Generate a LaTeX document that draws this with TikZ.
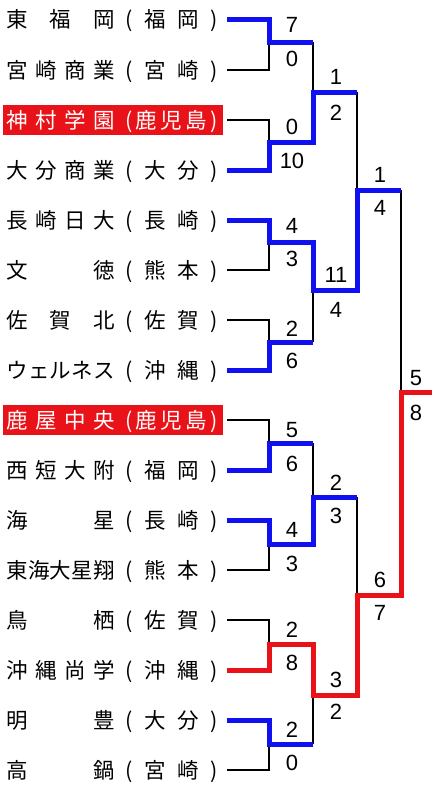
\documentclass[tikz,border=0pt]{standalone}
\usepackage{fontspec}
\setmainfont{Liberation Sans}
\newfontfamily\jp{Noto Sans CJK JP}
\definecolor{myred}{RGB}{232,18,24}
\definecolor{myblue}{RGB}{16,16,240}
\newcommand\teamrow[5]{%
  \coordinate (#1) at (227,#2);
  \node[tn, text=#5] (#1n) at (6,#2+8) {\makebox[109pt][l]{#3}};
  \node[tn, text=#5] (#1p) at (125,#2+8) {\makebox[93pt][l]{#4}};
}
\begin{document}
\begin{tikzpicture}[x=1pt,y=-1pt,
  tn/.style={anchor=base west, inner sep=0pt, font=\jp\fontsize{21.5}{21.5}\selectfont},
  sc/.style={inner sep=0pt, font=\fontsize{22}{22}\selectfont},
  lose/.style={draw=black, line width=1.6pt},
  winb/.style={draw=myblue, line width=5pt},
  winr/.style={draw=myred, line width=5pt},
  redbox/.style={fill=myred}]
\useasboundingbox (0,0) rectangle (434,790);
\fill[redbox] (3,105) rectangle (223,135);
\fill[redbox] (3,405) rectangle (223,435);
% teams
\teamrow{t1}{19}{東\hfill 福\hfill 岡}{(\hfill 福\hfill 岡\hfill )}{black}
\teamrow{t2}{70}{宮\hfill 崎\hfill 商\hfill 業}{(\hfill 宮\hfill 崎\hfill )}{black}
\teamrow{t3}{120}{神\hfill 村\hfill 学\hfill 園}{(\hfill 鹿\hfill 児\hfill 島\hfill )}{white}
\teamrow{t4}{170}{大\hfill 分\hfill 商\hfill 業}{(\hfill 大\hfill 分\hfill )}{black}
\teamrow{t5}{220}{長\hfill 崎\hfill 日\hfill 大}{(\hfill 長\hfill 崎\hfill )}{black}
\teamrow{t6}{270}{文\hfill 徳}{(\hfill 熊\hfill 本\hfill )}{black}
\teamrow{t7}{320}{佐\hfill 賀\hfill 北}{(\hfill 佐\hfill 賀\hfill )}{black}
\teamrow{t8}{370}{ウ\hfill ェ\hfill ル\hfill ネ\hfill ス}{(\hfill 沖\hfill 縄\hfill )}{black}
\teamrow{t9}{420}{鹿\hfill 屋\hfill 中\hfill 央}{(\hfill 鹿\hfill 児\hfill 島\hfill )}{white}
\teamrow{t10}{470}{西\hfill 短\hfill 大\hfill 附}{(\hfill 福\hfill 岡\hfill )}{black}
\teamrow{t11}{520}{海\hfill 星}{(\hfill 長\hfill 崎\hfill )}{black}
\teamrow{t12}{570}{東\hfill 海\hfill 大\hfill 星\hfill 翔}{(\hfill 熊\hfill 本\hfill )}{black}
\teamrow{t13}{620}{鳥\hfill 栖}{(\hfill 佐\hfill 賀\hfill )}{black}
\teamrow{t14}{670}{沖\hfill 縄\hfill 尚\hfill 学}{(\hfill 沖\hfill 縄\hfill )}{black}
\teamrow{t15}{720}{明\hfill 豊}{(\hfill 大\hfill 分\hfill )}{black}
\teamrow{t16}{770}{高\hfill 鍋}{(\hfill 宮\hfill 崎\hfill )}{black}
% joints
\coordinate (m1) at (313,42);
\coordinate (m2) at (313,142);
\coordinate (m3) at (313,242);
\coordinate (m4) at (313,342);
\coordinate (m5) at (313,443);
\coordinate (m6) at (313,544);
\coordinate (m7) at (313,644);
\coordinate (m8) at (313,744);
\coordinate (q1) at (357,92);
\coordinate (q2) at (357,290);
\coordinate (q3) at (357,497);
\coordinate (q4) at (357,695);
\coordinate (h1) at (401,190);
\coordinate (h2) at (401,595);
\coordinate (f) at (432,392);
% black lines
\foreach \a/\m in {t1/m1,t2/m1,t3/m2,t4/m2,t5/m3,t6/m3,t7/m4,t8/m4,t9/m5,t10/m5,t11/m6,t12/m6,t13/m7,t14/m7,t15/m8,t16/m8}
  \draw[lose] (\a) -- ++(42,0) |- (\m);
\foreach \a/\b in {m1/q1,m2/q1,m3/q2,m4/q2,m5/q3,m6/q3,m7/q4,m8/q4,q1/h1,q2/h1,q3/h2,q4/h2,h1/f,h2/f}
  \draw[lose] (\a) |- (\b);
% winners
\draw[winb] (t1) -- ++(42,0) |- (m1);
\draw[winb] (t4) -- ++(42,0) |- (m2) |- (q1);
\draw[winb] (t5) -- ++(42,0) |- (m3) |- (q2) |- (h1);
\draw[winb] (t8) -- ++(42,0) |- (m4);
\draw[winb] (t10) -- ++(42,0) |- (m5);
\draw[winb] (t11) -- ++(42,0) |- (m6) |- (q3);
\draw[winr] (t14) -- ++(42,0) |- (m7) |- (q4) |- (h2) |- (f);
\draw[winb] (t15) -- ++(42,0) |- (m8);
% scores
\node[sc] (s1a) at (292,25) {7};
\node[sc] (s1b) at (292,59) {0};
\node[sc] (s2a) at (292,127) {0};
\node[sc] (s2b) at (292,161) {10};
\node[sc] (s3a) at (292,226) {4};
\node[sc] (s3b) at (292,259) {3};
\node[sc] (s4a) at (292,329) {2};
\node[sc] (s4b) at (292,361) {6};
\node[sc] (s5a) at (292,430) {5};
\node[sc] (s5b) at (292,464) {6};
\node[sc] (s6a) at (292,530) {4};
\node[sc] (s6b) at (292,564) {3};
\node[sc] (s7a) at (292,630) {2};
\node[sc] (s7b) at (292,663) {8};
\node[sc] (s8a) at (292,730) {2};
\node[sc] (s8b) at (292,763) {0};
\node[sc] (r1a) at (336,77) {1};
\node[sc] (r1b) at (336,113) {2};
\node[sc] (r2a) at (336,275) {11};
\node[sc] (r2b) at (336,310) {4};
\node[sc] (r3a) at (336,483) {2};
\node[sc] (r3b) at (336,516) {3};
\node[sc] (r4a) at (336,680) {3};
\node[sc] (r4b) at (336,712) {2};
\node[sc] (u1a) at (380,175) {1};
\node[sc] (u1b) at (380,208) {4};
\node[sc] (u2a) at (380,580) {6};
\node[sc] (u2b) at (380,613) {7};
\node[sc] (fa) at (416,378) {5};
\node[sc] (fb) at (416,413) {8};
\end{tikzpicture}
\end{document}
